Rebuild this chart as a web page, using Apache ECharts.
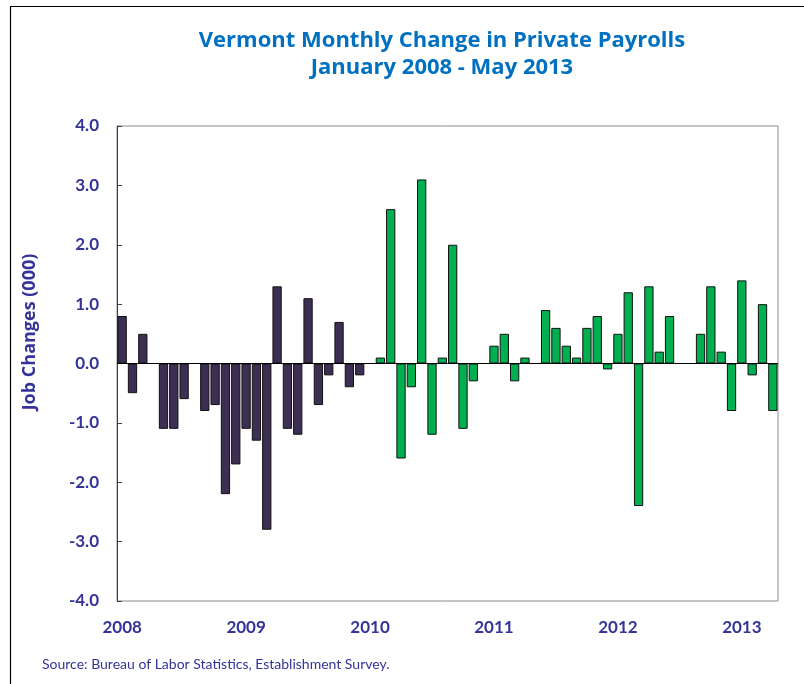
<!DOCTYPE html>
<html>
<head>
<meta charset="utf-8">
<script src="https://cdn.jsdelivr.net/npm/echarts@6/dist/echarts.min.js"></script>
<style>
html,body{margin:0;padding:0;background:#fff;}
#chart{width:804px;height:684px;}
</style>
</head>
<body>
<div id="chart"></div>
<script>
// Months Jan 2008 - Apr 2013 (as plotted)
const months = [
  '2008-01','2008-02','2008-03','2008-04','2008-05','2008-06','2008-07','2008-08','2008-09','2008-10','2008-11','2008-12',
  '2009-01','2009-02','2009-03','2009-04','2009-05','2009-06','2009-07','2009-08','2009-09','2009-10','2009-11','2009-12',
  '2010-01','2010-02','2010-03','2010-04','2010-05','2010-06','2010-07','2010-08','2010-09','2010-10','2010-11','2010-12',
  '2011-01','2011-02','2011-03','2011-04','2011-05','2011-06','2011-07','2011-08','2011-09','2011-10','2011-11','2011-12',
  '2012-01','2012-02','2012-03','2012-04','2012-05','2012-06','2012-07','2012-08','2012-09','2012-10','2012-11','2012-12',
  '2013-01','2013-02','2013-03','2013-04'
];
// Job changes (thousands)
const jobChanges = [
  0.8, -0.5, 0.5, 0, -1.1, -1.1, -0.6, 0, -0.8, -0.7, -2.2, -1.7,
  -1.1, -1.3, -2.8, 1.3, -1.1, -1.2, 1.1, -0.7, -0.2, 0.7, -0.4, -0.2,
  0, 0.1, 2.6, -1.6, -0.4, 3.1, -1.2, 0.1, 2.0, -1.1, -0.3, 0,
  0.3, 0.5, -0.3, 0.1, 0, 0.9, 0.6, 0.3, 0.1, 0.6, 0.8, -0.1,
  0.5, 1.2, -2.4, 1.3, 0.2, 0.8, 0, 0, 0.5, 1.3, 0.2, -0.8,
  1.4, -0.2, 1.0, -0.8
];
const titleLines = ['Vermont Monthly Change in Private Payrolls', 'January 2008 - May 2013'];
const yAxisTitle = 'Job Changes (000)';
const sourceNote = 'Source: Bureau of Labor Statistics, Establishment Survey.';

const PURPLE = '#3D2F53';
const GREEN = '#00B050';
const NAVY = '#333399';
const FONT = 'Lato, "Open Sans", sans-serif';
const FONT2 = '"Open Sans", Lato, sans-serif';

const barData = jobChanges.map((v, i) => ({
  value: v,
  itemStyle: { color: parseInt(months[i].slice(0, 4), 10) < 2010 ? PURPLE : GREEN }
}));

const chart = echarts.init(document.getElementById('chart'), null, { renderer: 'canvas' });
chart.setOption({
  backgroundColor: '#fff',
  animation: false,
  title: {
    text: titleLines.join('\n'),
    left: 437,
    top: 22,
    textAlign: 'center',
    textStyle: { color: '#0070C0', fontFamily: FONT2, fontWeight: 'bold', fontSize: 22, lineHeight: 27 }
  },
  grid: {
    left: 117, top: 126, right: 26, bottom: 83,
    show: true, borderColor: '#8c8c8c', borderWidth: 1, backgroundColor: 'transparent'
  },
  xAxis: {
    type: 'category',
    data: months,
    axisLine: { show: false, onZero: false },
    axisTick: { show: false },
    axisLabel: {
      interval: 11,
      margin: 18,
      color: NAVY, fontFamily: FONT, fontWeight: 'bold', fontSize: 17,
      formatter: v => v.slice(0, 4)
    },
    splitLine: { show: false }
  },
  yAxis: {
    type: 'value',
    min: -4, max: 4, interval: 1,
    axisLine: { show: true, lineStyle: { color: '#404040', width: 1 } },
    axisTick: { show: true, inside: true, length: 5, lineStyle: { color: '#404040' } },
    axisLabel: {
      margin: 18,
      color: NAVY, fontFamily: FONT, fontWeight: 'bold', fontSize: 17,
      formatter: v => v.toFixed(1)
    },
    splitLine: { show: false }
  },
  series: [{
    type: 'bar',
    data: barData,
    barCategoryGap: '10%',
    itemStyle: { borderColor: '#111', borderWidth: 1 },
    markLine: {
      silent: true,
      symbol: 'none',
      label: { show: false },
      lineStyle: { color: '#000', width: 1, type: 'solid' },
      data: [{ yAxis: 0 }]
    }
  }],
  graphic: [
    {
      type: 'rect', silent: true,
      shape: { x: 10.5, y: 6.5, width: 820, height: 700 },
      style: { fill: null, stroke: '#000', lineWidth: 1.2 }
    },
    {
      type: 'text', silent: true,
      x: 30, y: 332, rotation: Math.PI / 2,
      style: {
        text: yAxisTitle, fill: NAVY, font: 'bold 18px ' + FONT2,
        textAlign: 'center', textVerticalAlign: 'middle'
      }
    },
    {
      type: 'text', silent: true,
      x: 42, y: 664,
      style: {
        text: sourceNote, fill: NAVY, font: '14px ' + FONT,
        textAlign: 'left', textVerticalAlign: 'middle'
      }
    }
  ]
});
</script>
</body>
</html>
